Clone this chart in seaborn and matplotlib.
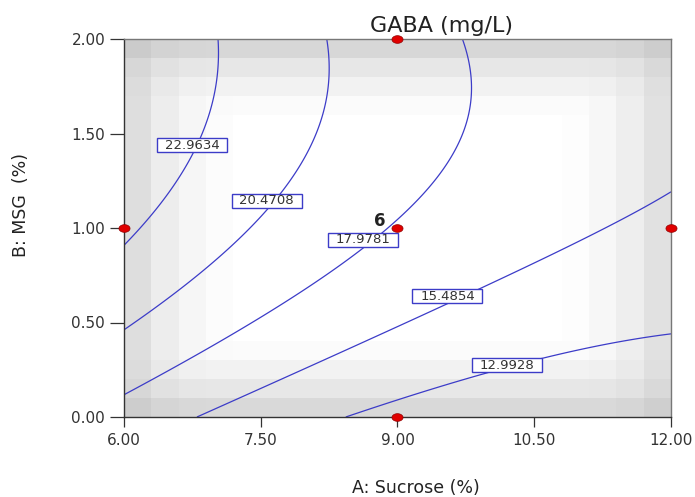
import numpy as np
import pandas as pd
import matplotlib
matplotlib.use("Agg")
import matplotlib.pyplot as plt
import seaborn as sns
from matplotlib.patches import Rectangle
from matplotlib.transforms import ScaledTranslation

sns.set_style("white")
plt.rcParams['font.family'] = ['DejaVu Sans']

# ---------------- data ----------------
levels = [12.9928, 15.4854, 17.9781, 20.4708, 22.9634]
level_text = ["12.9928", "15.4854", "17.9781", "20.4708", "22.9634"]

# points on each contour (A: Sucrose %, B: MSG %)
c12_A = [8.515, 8.808, 9.357, 10.198, 11.002, 11.989]
c12_B = [0.000, 0.055, 0.160, 0.258, 0.346, 0.434]
c15_A = [6.834, 7.492, 8.150, 9.027, 9.540, 9.905, 10.453, 11.002, 11.587, 12.000]
c15_B = [0.000, 0.160, 0.328, 0.487, 0.602, 0.681, 0.813, 0.946, 1.086, 1.192]
c17_A = [9.715, 9.795, 9.722, 9.466, 8.918, 8.625, 8.004, 7.492, 6.834, 6.011]
c17_B = [2.000, 1.695, 1.483, 1.254, 1.016, 0.901, 0.672, 0.513, 0.337, 0.125]
c20_A = [8.223, 8.241, 8.186, 8.040, 7.711, 7.382, 7.163, 6.760, 6.321, 6.011]
c20_B = [2.000, 1.783, 1.607, 1.395, 1.175, 1.007, 0.884, 0.707, 0.566, 0.469]
c22_A = [7.035, 7.020, 6.925, 6.742, 6.541, 6.285, 6.010]
c22_B = [2.000, 1.853, 1.607, 1.395, 1.219, 1.060, 0.928]

# contour label positions
label_A = [10.196, 9.548, 8.622, 7.566, 6.746]
label_B = [0.275, 0.640, 0.937, 1.143, 1.439]

# design points
design_A = [6, 9, 9, 12, 9]
design_B = [1, 2, 1, 1, 0]
center_reps = "6"

# grey shading (darkness per column left->right and per row top->bottom)
col_dark = [33, 18, 9, 3, 0, 0, 0, 0, 0, 0, 0, 0, 0, 0, 0, 0, 2, 8, 17, 30]
row_dark = [40, 24, 13, 4, 0, 0, 0, 0, 0, 0, 0, 0, 0, 0, 0, 0, 4, 13, 24, 38]

x_ticks = [6.0, 7.5, 9.0, 10.5, 12.0]
y_ticks = [0.0, 0.5, 1.0, 1.5, 2.0]

# ---------------- fit quadratic response surface to contour points ----------------
contours = [(levels[0], c12_A, c12_B), (levels[1], c15_A, c15_B), (levels[2], c17_A, c17_B),
            (levels[3], c20_A, c20_B), (levels[4], c22_A, c22_B)]
rows, rhs = [], []
for lev, As, Bs in contours:
    for A, B in zip(As, Bs):
        a = (A - 9) / 3.0
        b = B - 1.0
        rows.append([1, a, b, a * b, a * a, b * b])
        rhs.append(lev)
coef, *_ = np.linalg.lstsq(np.array(rows), np.array(rhs), rcond=None)

Ag = np.linspace(6, 12, 401)
Bg = np.linspace(0, 2, 401)
AA, BB = np.meshgrid(Ag, Bg)
a = (AA - 9) / 3.0
b = BB - 1.0
Z = coef[0] + coef[1]*a + coef[2]*b + coef[3]*a*b + coef[4]*a*a + coef[5]*b*b

# ---------------- figure ----------------
fig = plt.figure(figsize=(6.95, 4.97), dpi=100)
ax = fig.add_axes([124/695, 1-417/497, 547/695, 378/497])

# background shading
cd = np.array(col_dark, float)
rd = np.array(row_dark[::-1], float)
dark = np.sqrt(cd[None, :]**2 + rd[:, None]**2)
gray = (255 - dark) / 255.0
ax.pcolormesh(np.linspace(6, 12, 21), np.linspace(0, 2, 21), gray, cmap='gray',
              vmin=0, vmax=1, shading='flat', zorder=0)

blue = '#3c3cc8'
ax.contour(Ag, Bg, Z, levels=levels, colors=blue, linewidths=0.9, zorder=2)

# contour labels with boxes
for txt, la, lb in zip(level_text, label_A, label_B):
    tr = fig.dpi_scale_trans + ScaledTranslation(la, lb, ax.transData)
    ax.add_patch(Rectangle((-0.35, -0.07), 0.70, 0.14, transform=tr, facecolor='white',
                           edgecolor=blue, linewidth=1.0, zorder=3, clip_on=False))
    ax.text(la, lb, txt, ha='center', va='center', fontsize=9.5, color='#333333', zorder=4)

# design points
df = pd.DataFrame({'A': design_A, 'B': design_B})
t = np.linspace(0, 2*np.pi, 40)
ell = list(zip(1.45*np.cos(t), np.sin(t)))
sns.scatterplot(data=df, x='A', y='B', marker=ell, s=64, color='#e00000', edgecolor='#900000',
                linewidth=0.5, clip_on=False, zorder=6, ax=ax, legend=False)
ax.text(8.87, 1.035, center_reps, ha='right', va='center', fontsize=12, fontweight='bold',
        color='#222222', zorder=5)

ax.set_xlim(6, 12)
ax.set_ylim(0, 2)
ax.set_xticks(x_ticks)
ax.set_xticklabels([f"{v:.2f}" for v in x_ticks])
ax.set_yticks(y_ticks)
ax.set_yticklabels([f"{v:.2f}" for v in y_ticks])
ax.set_xlabel('')
ax.set_ylabel('')
ax.tick_params(axis='y', direction='out', length=10, width=0.9, pad=3.5, labelsize=11,
               color='#333333', labelcolor='#333333', left=True)
ax.tick_params(axis='x', direction='out', length=7.2, width=0.9, pad=4.3, labelsize=11,
               color='#333333', labelcolor='#333333', bottom=True)
for side in ['left', 'bottom']:
    ax.spines[side].set_color('#333333')
    ax.spines[side].set_linewidth(1.0)
for side in ['top', 'right']:
    ax.spines[side].set_color('#777777')
    ax.spines[side].set_linewidth(1.0)

fig.text(441/695, 1-32/497, 'GABA (mg/L)', ha='center', va='baseline', fontsize=16, color='#222222')
fig.text(416/695, 1-493/497, 'A: Sucrose (%)', ha='center', va='baseline', fontsize=12.5, color='#222222')
fig.text(21/695, 1-205/497, 'B: MSG  (%)', ha='center', va='center', rotation=90, fontsize=12.5,
         color='#222222')

fig.savefig('out.png', dpi=100)
